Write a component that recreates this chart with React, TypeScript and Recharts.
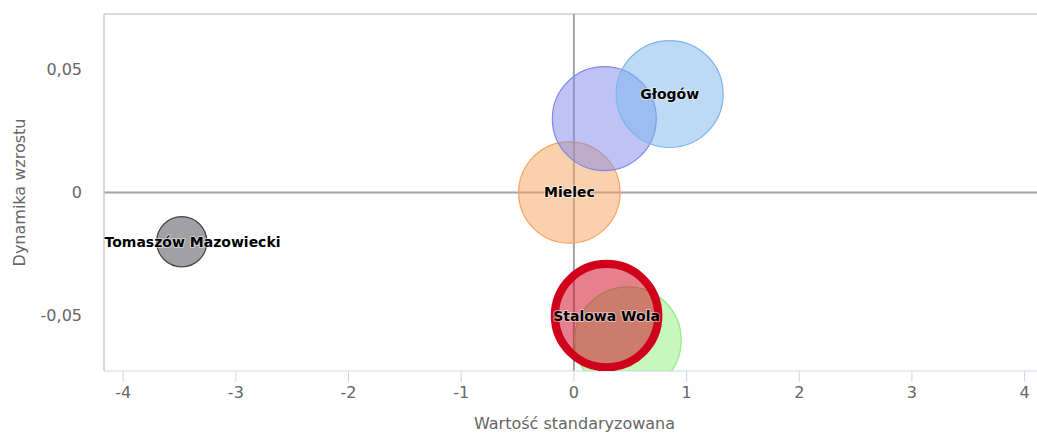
import React, { useLayoutEffect, useRef, useState } from 'react';
import { ScatterChart, Scatter, XAxis, YAxis, ZAxis, ReferenceLine } from 'recharts';

// ---- data ----
const names = ['Tomaszów Mazowiecki', 'Mielec', '', 'Głogów', '', 'Stalowa Wola'];
const xValues = [-3.48, -0.04, 0.27, 0.85, 0.48, 0.29];
const yValues = [-0.02, 0, 0.03, 0.04, -0.06, -0.05];
const zValues = [0.63, 2.57, 2.7, 2.86, 2.84, 2.67];
const colors = ['#434348', '#f7a35c', '#8085e9', '#7cb5ec', '#90ed7d', '#d0021b'];
const xTicks = [-4, -3, -2, -1, 0, 1, 2, 3, 4];
const yTicks = [-0.05, 0, 0.05];
const xTitle = 'Wartość standaryzowana';
const yTitle = 'Dynamika wzrostu';

// ---- layout ----
const WIDTH = 1037;
const HEIGHT = 434;
const MARGIN = { top: 14, right: 0, bottom: 0, left: 0 };
const Y_AXIS_WIDTH = 104;
const X_AXIS_HEIGHT = 63;
const PLOT_LEFT = MARGIN.left + Y_AXIS_WIDTH;
const X_DOMAIN: [number, number] = [-4.17, 4.11];
const Y_DOMAIN: [number, number] = [-0.0725, 0.0725];
const FONT = '"DejaVu Sans", Verdana, sans-serif';

const series = names.map((name, i) => ({
  name,
  color: colors[i],
  data: [{ x: xValues[i], y: yValues[i], z: zValues[i], name }],
}));

const fmt = (v: number) => String(v).replace('.', ',');

function BubbleLabel({ cx, cy, text }: { cx: number; cy: number; text: string }) {
  const ref = useRef<SVGTextElement>(null);
  const [shift, setShift] = useState(0);
  useLayoutEffect(() => {
    if (!ref.current) return;
    const w = ref.current.getComputedTextLength();
    const left = cx - w / 2;
    const min = PLOT_LEFT + 0.5;
    setShift(left < min ? min - left : 0);
  }, [cx, text]);
  return (
    <text
      ref={ref}
      x={cx + shift}
      y={cy}
      dy="0.35em"
      textAnchor="middle"
      fontFamily={FONT}
      fontSize={14}
      fontWeight="bold"
      fill="#000"
      stroke="#fff"
      strokeOpacity={0.5}
      strokeWidth={2}
      strokeLinejoin="round"
      paintOrder="stroke"
    >
      {text}
    </text>
  );
}

const makeShape = (i: number) => (props: any) => {
  const { cx, cy } = props;
  const r = props.size != null ? Math.sqrt(props.size / Math.PI) : props.width / 2;
  const highlighted = i === names.length - 1;
  return (
    <g>
      <circle
        cx={cx}
        cy={cy}
        r={r}
        fill={colors[i]}
        fillOpacity={0.5}
        stroke={colors[i]}
        strokeWidth={highlighted ? 8.3 : 1.2}
      />
      {names[i] ? <BubbleLabel cx={cx} cy={cy} text={names[i]} /> : null}
    </g>
  );
};

const XTitle = (props: any) => {
  const vb = props.viewBox || {};
  return (
    <text
      x={vb.x + vb.width / 2 + 4}
      y={vb.y + vb.height - 5}
      textAnchor="middle"
      fontFamily={FONT}
      fontSize={16}
      fill="#666"
    >
      {xTitle}
    </text>
  );
};

const YTitle = (props: any) => {
  const vb = props.viewBox || {};
  const x = vb.x + 25;
  const y = vb.y + vb.height / 2;
  return (
    <text
      x={x}
      y={y}
      transform={`rotate(-90 ${x} ${y})`}
      textAnchor="middle"
      fontFamily={FONT}
      fontSize={16}
      fill="#666"
    >
      {yTitle}
    </text>
  );
};

export default function App() {
  return (
    <div style={{ position: 'absolute', left: 0, top: 0, width: WIDTH, height: HEIGHT, background: '#fff' }}>
      <ScatterChart width={WIDTH} height={HEIGHT} margin={MARGIN}>
        <XAxis
          type="number"
          dataKey="x"
          domain={X_DOMAIN}
          ticks={xTicks}
          interval={0}
          allowDataOverflow
          height={X_AXIS_HEIGHT}
          tickSize={11}
          tickMargin={5}
          axisLine={{ stroke: '#ccd6eb' }}
          tickLine={{ stroke: '#ccd6eb' }}
          tick={{ fill: '#666', fontSize: 16, fontFamily: FONT }}
          tickFormatter={fmt}
          label={<XTitle />}
        />
        <YAxis
          type="number"
          dataKey="y"
          domain={Y_DOMAIN}
          ticks={yTicks}
          interval={0}
          allowDataOverflow
          width={Y_AXIS_WIDTH}
          tickSize={0}
          tickMargin={22}
          axisLine={{ stroke: '#cccccc', strokeWidth: 1.5 }}
          tickLine={false}
          tick={{ fill: '#666', fontSize: 16, fontFamily: FONT }}
          tickFormatter={fmt}
          label={<YTitle />}
        />
        <ZAxis type="number" dataKey="z" domain={[0, 3]} range={[0, 3000 * Math.PI]} />
        <ReferenceLine y={Y_DOMAIN[1]} stroke="#cccccc" strokeWidth={1.5} />
        <ReferenceLine x={0} stroke="#a3a3a3" strokeWidth={2} />
        <ReferenceLine y={0} stroke="#a3a3a3" strokeWidth={2} />
        {series.map((s, i) => (
          <Scatter
            key={i}
            name={s.name || `seria ${i + 1}`}
            data={s.data}
            fill={s.color}
            shape={makeShape(i)}
            isAnimationActive={false}
          />
        ))}
      </ScatterChart>
    </div>
  );
}
